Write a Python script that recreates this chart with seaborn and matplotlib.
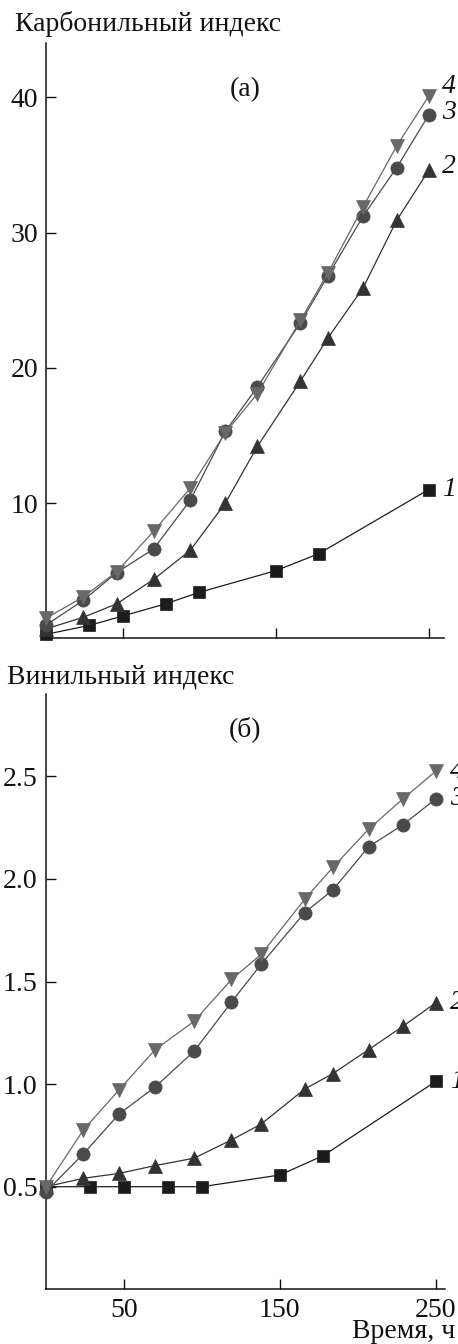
import matplotlib
matplotlib.use("Agg")
import matplotlib.pyplot as plt
import seaborn as sns
import numpy as np

# ---------------- data ----------------
# panel (a): carbonyl index
time_a1 = [0, 28, 50, 78, 100, 150, 178, 250]
carb_1 = [0.3, 0.95, 1.65, 2.55, 3.4, 5.0, 6.25, 11.0]
time_a = [0, 24, 46, 70, 94, 117, 138, 166, 184, 207, 229, 250]
carb_2 = [0.7, 1.55, 2.55, 4.35, 6.5, 10.0, 14.2, 19.0, 22.2, 25.9, 30.9, 34.6]
carb_3 = [1.0, 2.8, 4.86, 6.6, 10.2, 15.3, 18.6, 23.3, 26.8, 31.2, 34.8, 38.7]
carb_4 = [1.5, 3.05, 4.93, 7.9, 11.1, 15.2, 18.1, 23.5, 27.0, 31.9, 36.4, 40.1]

# panel (б): vinyl index
time_b1 = [0, 28, 50, 78, 100, 150, 178, 250]
vin_1 = [0.5, 0.5, 0.5, 0.5, 0.5, 0.557, 0.652, 1.013]
time_b = [0, 24, 47, 70, 95, 119, 138, 166, 184, 207, 229, 250]
vin_2 = [0.5, 0.541, 0.565, 0.603, 0.639, 0.728, 0.805, 0.976, 1.051, 1.168, 1.282, 1.396]
vin_3 = [0.476, 0.660, 0.855, 0.986, 1.16, 1.40, 1.584, 1.836, 1.946, 2.157, 2.264, 2.39]
vin_4 = [0.5, 0.777, 0.973, 1.168, 1.306, 1.51, 1.632, 1.901, 2.056, 2.243, 2.39, 2.525]

curve_labels = ["1", "2", "3", "4"]
xticks = [50, 150, 250]
yticks_a = [10, 20, 30, 40]
yticks_b = [0.5, 1.0, 1.5, 2.0, 2.5]

# ---------------- style ----------------
sns.set_theme(style="ticks")
plt.rcParams["font.family"] = ["Liberation Serif", "DejaVu Serif"]
FS = 20
plt.rcParams["font.size"] = FS

colors = ["#1c1c1c", "#333333", "#4a4a4a", "#686868"]
markers = ["s", "^", "o", "v"]
msizes = [9, 10, 9.5, 10.5]

fig = plt.figure(figsize=(4.58, 13.44), dpi=100)
ax_a = fig.add_axes([0.1015, 0.5251, 0.868, 0.4427])
ax_b = fig.add_axes([0.1004, 0.0407, 0.8712, 0.4427])


def draw(ax, xs, ys):
    for i, (x, y) in enumerate(zip(xs, ys)):
        sns.lineplot(x=x, y=y, ax=ax, color=colors[i], marker=markers[i],
                     markersize=msizes[i], markeredgecolor=colors[i],
                     markeredgewidth=0.5, linewidth=0.9, clip_on=False,
                     zorder=3 + i, estimator=None, sort=False)


draw(ax_a, [time_a1, time_a, time_a, time_a], [carb_1, carb_2, carb_3, carb_4])
draw(ax_b, [time_b1, time_b, time_b, time_b], [vin_1, vin_2, vin_3, vin_4])

for ax in (ax_a, ax_b):
    sns.despine(ax=ax)
    for s in ("left", "bottom"):
        ax.spines[s].set_linewidth(1.1)
        ax.spines[s].set_color("#111111")
    ax.tick_params(direction="in", length=7, width=1.0, colors="#111111",
                   labelsize=FS, pad=6)
    ax.set_xticks(xticks)
    ax.set_xlabel("")
    ax.set_ylabel("")
    ax.set_facecolor("white")

ax_a.set_xlim(0, 260)
ax_a.set_ylim(0, 44)
ax_a.set_yticks(yticks_a)
ax_a.set_xticklabels([])

ax_b.set_xlim(0, 256)
ax_b.set_ylim(0, 2.9)
ax_b.set_yticks(yticks_b)
ax_b.set_yticklabels([f"{v:.1f}" for v in yticks_b])
ax_b.set_xticklabels([str(v) for v in xticks])

# curve labels
a_last = [carb_1[-1], carb_2[-1] + 0.3, carb_3[-1] + 0.2, carb_4[-1] + 0.7]
for lab, yv in zip(curve_labels, a_last):
    ax_a.text(258.5, yv, lab, fontsize=FS, style="italic", va="center",
              ha="left", clip_on=False, color="#111111")
b_last = [vin_1[-1], vin_2[-1], vin_3[-1], vin_4[-1]]
for lab, yv in zip(curve_labels, b_last):
    ax_b.text(259, yv, lab, fontsize=FS, style="italic", va="center",
              ha="left", clip_on=False, color="#111111")

ax_a.text(0.5, 0.9215, "(а)", transform=ax_a.transAxes, ha="center",
          va="center", fontsize=FS, color="#111111")
ax_b.text(0.5, 0.9417, "(б)", transform=ax_b.transAxes, ha="center",
          va="center", fontsize=FS, color="#111111")

fig.text(15 / 458, 1 - 24 / 1344, "Карбонильный индекс", ha="left",
         va="center", fontsize=FS, color="#111111")
fig.text(7 / 458, 1 - 677 / 1344, "Винильный индекс", ha="left",
         va="center", fontsize=FS, color="#111111")
fig.text(455 / 458, 1 - 1338 / 1344, "Время, ч", ha="right",
         va="baseline", fontsize=FS, color="#111111")

fig.savefig("out.png", dpi=100, facecolor="white")
